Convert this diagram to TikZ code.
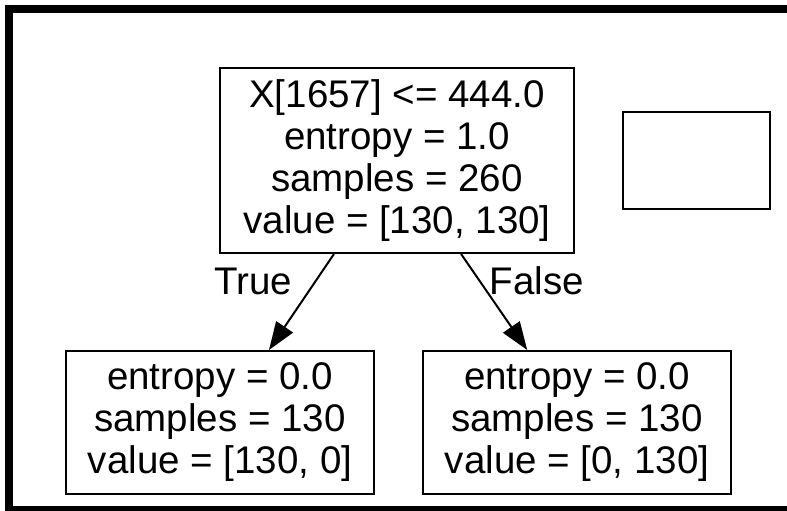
\documentclass[tikz,border=0pt]{standalone}
\usepackage{fontspec}
\setmainfont{Liberation Sans}
\usetikzlibrary{arrows.meta}
\begin{document}
\begin{tikzpicture}[x=1pt,y=-1pt,
    treebox/.style={draw, line width=2pt, align=center, inner sep=0pt,
      font=\fontsize{38.5}{42}\selectfont},
    branch/.style={line width=2pt, -{Triangle[length=28pt,width=20pt]}},
    branchlabel/.style={font=\fontsize{38.5}{42}\selectfont}]
        % Cornice e dimensioni della figura
        \useasboundingbox (0,0) rectangle (787,511);
        \draw[line width=8pt] (800,9) -- (9,9) -- (9,510) -- (800,510);

        % Nodi dell'albero
        \node[treebox, minimum width=354pt, minimum height=185pt] (root) at (397,160.5)
          {X[1657] <= 444.0\\entropy = 1.0\\samples = 260\\value = [130, 130]};
        \node[treebox, minimum width=147pt, minimum height=97pt] (blank) at (696.5,160.5) {};
        \node[treebox, minimum width=308pt, minimum height=143pt] (lefty) at (220,422.5)
          {entropy = 0.0\\samples = 130\\value = [130, 0]};
        \node[treebox, minimum width=308pt, minimum height=143pt] (righty) at (577,422.5)
          {entropy = 0.0\\samples = 130\\value = [0, 130]};

        % Rami
        \draw[branch] (root) -- (lefty);
        \draw[branch] (root) -- (righty);
        \node[branchlabel] (truelab) at (253,281) {True};
        \node[branchlabel] (falselab) at (537,281) {False};
      \end{tikzpicture}
\end{document}
